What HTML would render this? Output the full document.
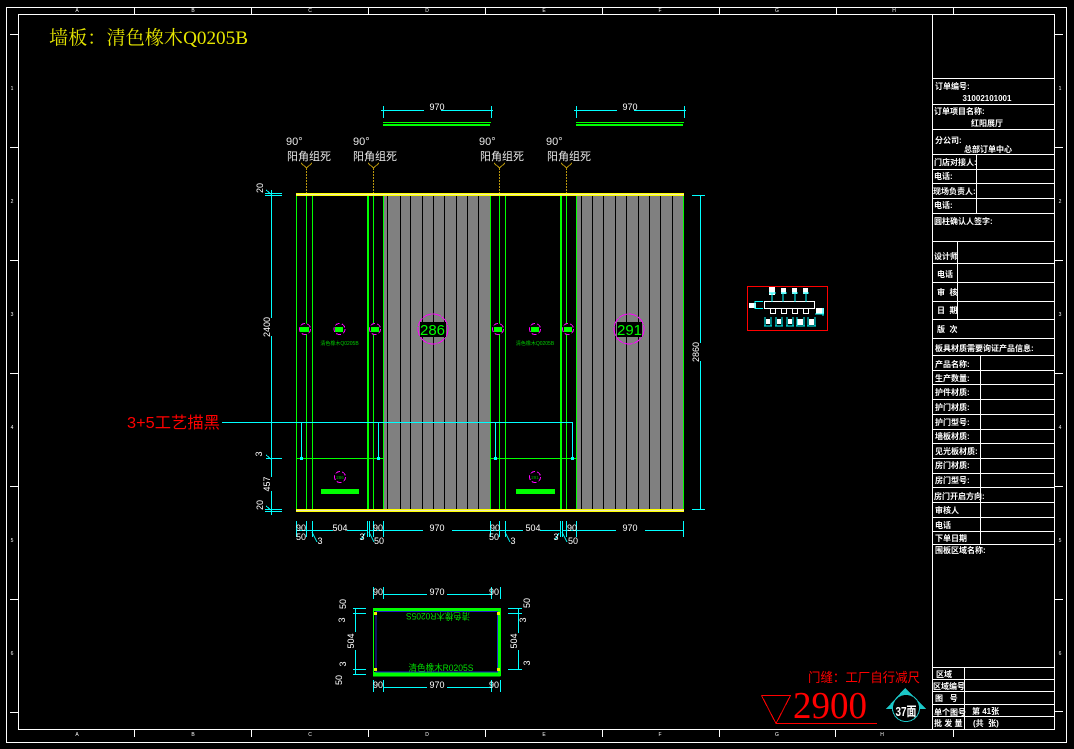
<!DOCTYPE html>
<html lang="zh"><head><meta charset="utf-8"><title>墙板 清色橡木Q0205B</title>
<style>
html,body{margin:0;padding:0;background:#000;width:1074px;height:749px;overflow:hidden}
svg{display:block;shape-rendering:crispEdges}
.f{fill:none;stroke:#fff;stroke-width:1}
.c{fill:none;stroke:#0ff;stroke-width:1}
.g{fill:none;stroke:#0f0;stroke-width:1}
.d{fill:#000;stroke:#f0f;stroke-width:1;stroke-dasharray:5 2}
.k{stroke:#000;stroke-width:1}
.t{font:bold 8px "Liberation Sans","Noto Sans CJK SC",sans-serif;fill:#fff}
.n{font:9px "Liberation Sans",sans-serif;fill:#fff;text-anchor:middle}
.l{font:11px "Liberation Sans","Noto Sans CJK SC",sans-serif;fill:#e8e8e8}
.z{font:5px "Liberation Sans",sans-serif;fill:#fff;text-anchor:middle}
</style></head><body>
<svg width="1074" height="749" viewBox="0 0 1074 749" xmlns="http://www.w3.org/2000/svg">
<rect width="1074" height="749" fill="#000"/>
<!-- frame -->
<rect class="f" x="6.5" y="7.5" width="1060" height="735"/>
<rect class="f" x="18.5" y="14.5" width="1036" height="715"/>
<path class="f" d="M134.5 7v7M251.5 7v7M368.5 7v7M485.5 7v7M602.5 7v7M719.5 7v7M836.5 7v7M953.5 7v7M134.5 730v7M251.5 730v7M368.5 730v7M485.5 730v7M602.5 730v7M719.5 730v7M835.5 730v7M953.5 730v7M10 34.5h8M10 147.5h8M10 260.5h8M10 373.5h8M10 486.5h8M10 599.5h8M10 712.5h8M1055 34.5h8M1055 147.5h8M1055 260.5h8M1055 373.5h8M1055 486.5h8M1055 599.5h8M1055 711.5h8"/>
<g class="z"><text x="77" y="12">A</text><text x="193" y="12">B</text><text x="310" y="12">C</text><text x="427" y="12">D</text><text x="544" y="12">E</text><text x="660" y="12">F</text><text x="777" y="12">G</text><text x="894" y="12">H</text>
<text x="77" y="736">A</text><text x="193" y="736">B</text><text x="310" y="736">C</text><text x="427" y="736">D</text><text x="544" y="736">E</text><text x="660" y="736">F</text><text x="777" y="736">G</text><text x="882" y="736">H</text>
<text x="12" y="90">1</text><text x="12" y="203">2</text><text x="12" y="316">3</text><text x="12" y="429">4</text><text x="12" y="542">5</text><text x="12" y="655">6</text>
<text x="1060" y="90">1</text><text x="1060" y="203">2</text><text x="1060" y="316">3</text><text x="1060" y="429">4</text><text x="1060" y="542">5</text><text x="1060" y="655">6</text></g>
<!-- title block -->
<path class="f" d="M932.5 15v714M933 78.5h121M933 104.5h121M933 129.5h121M933 154.5h121M933 169.5h121M933 183.5h121M933 198.5h121M933 213.5h121M933 241.5h121M933 263.5h121M933 282.5h121M933 301.5h121M933 319.5h121M933 338.5h121M933 355.5h121M933 370.5h121M933 384.5h121M933 399.5h121M933 414.5h121M933 429.5h121M933 443.5h121M933 458.5h121M933 473.5h121M933 487.5h121M933 502.5h121M933 517.5h121M933 531.5h121M933 544.5h121M933 667.5h121M933 679.5h121M933 691.5h121M933 704.5h121M933 716.5h121M976.5 154v59M957.5 241v78M980.5 355v189M964.5 667v62"/>
<g class="t">
<text x="935" y="89">订单编号:</text><text x="987" y="101" text-anchor="middle" font-size="8">31002101001</text>
<text x="934" y="114">订单项目名称:</text><text x="987" y="126" text-anchor="middle">红阳展厅</text>
<text x="935" y="143">分公司:</text><text x="988" y="152" text-anchor="middle">总部订单中心</text>
<text x="934" y="165">门店对接人:</text><text x="934" y="179">电话:</text><text x="933" y="194">现场负责人:</text><text x="934" y="208">电话:</text><text x="934" y="224">圆柱确认人签字:</text>
<text x="934" y="259">设计师</text><text x="937" y="277">电话</text><text x="937" y="295">审 &#160;核</text><text x="937" y="313">日 &#160;期</text><text x="937" y="332">版 &#160;次</text>
<text x="935" y="351">板具材质需要询证产品信息:</text><text x="935" y="367">产品名称:</text><text x="935" y="381">生产数量:</text><text x="935" y="395">护件材质:</text><text x="935" y="410">护门材质:</text><text x="935" y="425">护门型号:</text><text x="935" y="439">墙板材质:</text><text x="935" y="454">见光板材质:</text><text x="935" y="468">房门材质:</text><text x="935" y="483">房门型号:</text><text x="934" y="499">房门开启方向:</text><text x="935" y="513">审核人</text><text x="935" y="528">电话</text><text x="935" y="541">下单日期</text><text x="935" y="553">围板区域名称:</text>
<text x="936" y="677">区域</text><text x="933" y="689">区域编号</text><text x="935" y="701">图 &#160; 号</text><text x="934" y="715">单个图号</text><text x="934" y="726">批 发 量</text><text x="972" y="714">第 41张</text><text x="973" y="726">(共 &#160;张)</text>
</g>
<!-- headings -->
<text x="49" y="44" font-size="19" fill="#e6e600" font-family="'Liberation Serif','Noto Serif CJK SC',serif" textLength="199" lengthAdjust="spacingAndGlyphs">墙板&#65306;清色橡木Q0205B</text>
<text x="127" y="428" font-size="16" fill="#f00" font-family="'Liberation Sans','Noto Sans CJK SC',sans-serif" textLength="93" lengthAdjust="spacingAndGlyphs">3+5工艺描黑</text>
<text x="808" y="682" font-size="13" fill="#f00" font-family="'Liberation Sans','Noto Sans CJK SC',sans-serif" textLength="112" lengthAdjust="spacingAndGlyphs">门缝&#65306;工厂自行减尺</text>
<text x="793" y="718" font-size="38" fill="#f00" font-family="'Liberation Serif',serif" textLength="74" lengthAdjust="spacingAndGlyphs">2900</text>
<path d="M761.5 695.5h29L776 723.500h101M761.5 695.500L776 723.500" fill="none" stroke="#f00"/>
<path d="M905 688L926 709H886Z" fill="#1cc8c8"/>
<circle cx="906" cy="708" r="13.500" fill="#000" stroke="#1cc8c8"/>
<text x="906" y="716" font-size="13" font-weight="bold" fill="#fff" text-anchor="middle" font-family="'Liberation Sans','Noto Sans CJK SC',sans-serif" textLength="21" lengthAdjust="spacingAndGlyphs">37面</text>
<!-- gray panels -->
<rect x="383" y="196" width="108" height="313" fill="#808080"/>
<rect x="576" y="196" width="107" height="313" fill="#808080"/>
<path class="k" d="M387.500 196v313M400.500 196v313M410.500 196v313M422.500 196v313M433.500 196v313M444.500 196v313M456.500 196v313M467.500 196v313M478.500 196v313M581.500 196v313M592.500 196v313M603.500 196v313M615.500 196v313M626.500 196v313M638.500 196v313M649.500 196v313M660.500 196v313M672.500 196v313"/>
<!-- green verticals -->
<path class="g" d="M296.500 195v314M306.500 195v314M312.500 195v314M373.500 195v314M383.500 195v314M490.500 195v314M499.500 195v314M505.500 195v314M566.500 195v314M576.500 195v314M683.500 195v314M296 458.500h87M491 458.500h85"/>
<path d="M368 195v314M561 195v314" stroke="#0f0" stroke-width="2" fill="none"/>
<rect x="296" y="193" width="388" height="3" fill="#ff0"/><rect x="296" y="194" width="388" height="1" fill="#eeeeb0"/>
<rect x="296" y="509" width="388" height="3" fill="#ff0"/><rect x="296" y="510" width="388" height="1" fill="#eeeeb0"/>
<!-- leaders -->
<path d="M306.500 168v25M373.500 168v25M499.500 168v25M566.500 168v25" stroke="#b8960c" stroke-dasharray="2 1" fill="none"/>
<path d="M301 163l5.500 5 5.500-5M368 163l5.500 5 5.500-5M494 163l5.500 5 5.500-5M561 163l5.500 5 5.500-5" stroke="#b8960c" fill="none"/>
<g class="l"><text x="286" y="145">90°</text><text x="287" y="160" textLength="44" lengthAdjust="spacingAndGlyphs">阳角组死</text>
<text x="353" y="145">90°</text><text x="353" y="160" textLength="44" lengthAdjust="spacingAndGlyphs">阳角组死</text>
<text x="479" y="145">90°</text><text x="480" y="160" textLength="44" lengthAdjust="spacingAndGlyphs">阳角组死</text>
<text x="546" y="145">90°</text><text x="547" y="160" textLength="44" lengthAdjust="spacingAndGlyphs">阳角组死</text></g>
<!-- top dims -->
<path class="c" d="M381 110.500h43M441 110.500h52M383.500 106v12M491.500 106v12M574 110.500h43M634 110.500h52M576.500 106v12M684.500 106v12"/>
<g class="n"><text x="437" y="110">970</text><text x="630" y="110">970</text></g>
<g fill="#0f0"><rect x="383" y="122" width="108" height="1"/><rect x="383" y="124" width="107" height="2"/><rect x="576" y="122" width="108" height="1"/><rect x="576" y="124" width="107" height="2"/></g>
<!-- circles -->
<g>
<circle class="d" cx="305" cy="329" r="5.500"/><circle class="d" cx="339.500" cy="329" r="5.500"/><circle class="d" cx="375" cy="329" r="5.500"/>
<circle class="d" cx="498" cy="329" r="5.500"/><circle class="d" cx="535" cy="329" r="5.500"/><circle class="d" cx="568" cy="329" r="5.500"/>
<g fill="#0f0"><rect x="300" y="327" width="9" height="5"/><rect x="335" y="327" width="8" height="5"/><rect x="371" y="327" width="8" height="5"/><rect x="494" y="327" width="8" height="5"/><rect x="531" y="327" width="8" height="5"/><rect x="564" y="327" width="8" height="5"/></g>
<circle cx="433" cy="329" r="15" fill="none" stroke="#f0f" stroke-dasharray="9 1"/><circle cx="629" cy="329" r="15" fill="none" stroke="#f0f" stroke-dasharray="9 1"/>
<rect x="420" y="322" width="26" height="15" fill="#000"/><rect x="617" y="322" width="25" height="15" fill="#000"/>
<g font-family="'Liberation Sans',sans-serif" font-size="15" fill="#0f0" text-anchor="middle"><text x="432.500" y="335">286</text><text x="629.500" y="335">291</text></g>
<g font-family="'Liberation Sans','Noto Sans CJK SC',sans-serif" font-size="5" fill="#0c0" text-anchor="middle"><text x="339.500" y="345">清色橡木Q0205B</text><text x="535" y="345">清色橡木Q0205B</text></g>
<circle class="d" cx="340" cy="477" r="5.500"/><circle class="d" cx="535" cy="477" r="5.500"/>
<g font-family="'Liberation Sans',sans-serif" font-size="4.500" fill="#0a0" text-anchor="middle"><text x="340" y="479">286</text><text x="535" y="479">291</text></g>
<rect x="321" y="489" width="38" height="5" fill="#0f0"/><rect x="516" y="489" width="39" height="5" fill="#0f0"/>
</g>
<!-- cyan leader -->
<path class="c" d="M222 422.500h350.500V458M301.500 422v36M378.500 422v36M495.500 422v36"/>
<g fill="#0ff"><rect x="300" y="457" width="3" height="3"/><rect x="377" y="457" width="3" height="3"/><rect x="494" y="457" width="3" height="3"/><rect x="571" y="457" width="3" height="3"/></g>
<!-- left dims -->
<path class="c" d="M271.500 190v128M271.500 336v141M271.500 491v24M265 193.500h17M265 195.500h17M266 458.500h16M265 509.500h17M265 511.500h17M692 195.500h13M692 509.500h13M700.500 195v148M700.500 361v148M266 190l5 4M266 455l5 4M266 506l5 4"/>
<g class="n">
<text transform="translate(263 188) rotate(-90)">20</text>
<text transform="translate(270 327) rotate(-90)">2400</text>
<text transform="translate(262 454) rotate(-90)">3</text>
<text transform="translate(270 484) rotate(-90)">457</text>
<text transform="translate(263 505) rotate(-90)">20</text>
<text transform="translate(699 352) rotate(-90)">2860</text>
</g>
<!-- bottom dims -->
<path class="c" d="M296 530.500h37M347 530.500h20M369 530.500h54M452 530.500h71M540 530.500h20M562 530.500h54M645 530.500h38M296.500 521v16M306.500 521v16M312.500 521v16M367.500 521v16M369.500 521v16M373.500 521v16M383.500 521v16M490.500 521v16M499.500 521v16M505.500 521v16M560.500 521v16M562.500 521v16M566.500 521v16M576.500 521v16M683.500 521v16M312 532l5 10M369 532l5 10M505 532l5 10M562 532l5 10M365 533l-4 7M559 533l-4 7"/>
<g class="n">
<text x="301" y="531">90</text><text x="340" y="531">504</text><text x="378" y="531">90</text><text x="437" y="531">970</text><text x="495" y="531">90</text><text x="533" y="531">504</text><text x="572" y="531">90</text><text x="630" y="531">970</text>
<text x="301" y="540">50</text><text x="320" y="544">3</text><text x="362" y="540">3</text><text x="379" y="544">50</text><text x="494" y="540">50</text><text x="513" y="544">3</text><text x="556" y="540">3</text><text x="573" y="544">50</text>
</g>
<!-- plan -->
<path class="g" d="M373.500 608.500h126.500v67.500h-126.500z"/>
<g fill="#0f0"><rect x="373" y="608" width="127" height="3"/><rect x="373" y="672" width="127" height="4"/><rect x="498" y="608" width="3" height="68"/></g>
<rect x="376" y="611.500" width="121.500" height="60.500" fill="none" stroke="#22c" stroke-width="1"/>
<g fill="#ee0"><rect x="374" y="612" width="3" height="3"/><rect x="497" y="612" width="3" height="3"/><rect x="374" y="668" width="3" height="3"/><rect x="497" y="668" width="3" height="3"/></g>
<g font-family="'Liberation Sans','Noto Sans CJK SC',sans-serif" font-size="9" fill="#0d0" text-anchor="middle"><text transform="translate(438 613) rotate(180)" textLength="64" lengthAdjust="spacingAndGlyphs">清色橡木R0205S</text><text x="441" y="671" textLength="65" lengthAdjust="spacingAndGlyphs">清色橡木R0205S</text></g>
<path class="c" d="M373.500 587v12M383.500 587v12M491.500 587v12M500.500 587v12M383 594.500h44M447 594.500h44M373.500 680v12M383.500 680v12M491.500 680v12M500.500 680v12M383 687.500h44M447 687.500h44M355.500 608v24M355.500 650v24M353 608.500h13M353 613.500h13M353 669.500h13M353 674.500h13M518.500 608v25M518.500 650v20M508 608.500h14M508 613.500h14M508 669.500h14"/>
<g class="n">
<text x="378" y="595">90</text><text x="437" y="595">970</text><text x="494" y="595">90</text>
<text x="378" y="688">90</text><text x="437" y="688">970</text><text x="494" y="688">90</text>
<text transform="translate(346 604) rotate(-90)">50</text><text transform="translate(345 620) rotate(-90)">3</text><text transform="translate(354 641) rotate(-90)">504</text><text transform="translate(346 664) rotate(-90)">3</text><text transform="translate(342 680) rotate(-90)">50</text>
<text transform="translate(530 603) rotate(-90)">50</text><text transform="translate(526 620) rotate(-90)">3</text><text transform="translate(517 641) rotate(-90)">504</text><text transform="translate(530 663) rotate(-90)">3</text>
</g>
<!-- mini drawing -->
<rect x="747.500" y="286.500" width="80" height="44" fill="none" stroke="#f00"/>
<rect x="764.500" y="301.500" width="50" height="7" fill="none" stroke="#fff" stroke-width="1"/>
<path class="f" d="M770.500 309v4.500h5V309M781.500 309v4.500h5V309M792.500 309v4.500h5V309M803.500 309v4.500h5V309"/>
<g fill="#fff"><rect x="769" y="287" width="6" height="8"/><rect x="781" y="288" width="5" height="6"/><rect x="792" y="288" width="5" height="6"/><rect x="803" y="288" width="5" height="6"/><rect x="749" y="303" width="7" height="5"/><rect x="816" y="308" width="8" height="6"/><rect x="766" y="319" width="4" height="5"/><rect x="777" y="319" width="4" height="5"/><rect x="788" y="319" width="4" height="5"/><rect x="797" y="319" width="6" height="6"/><rect x="809" y="319" width="5" height="6"/></g>
<path class="c" d="M769 293h7M772 293v9M781 293h6M783 293v9M792 293h6M795 293v9M803 293h6M806 293v9M755 301.500h8M755 308.500h8M755 301v8M815 314h9M823 308v8M765 317v9M771 317v9M776 317v9M782 317v9M787 317v9M793 317v9M797 317v9M804 317v9M808 317v9M815 317v9M764 326h8M775 326h8M786 326h8M796 326h9M807 326h9"/>
</svg>
</body></html>
